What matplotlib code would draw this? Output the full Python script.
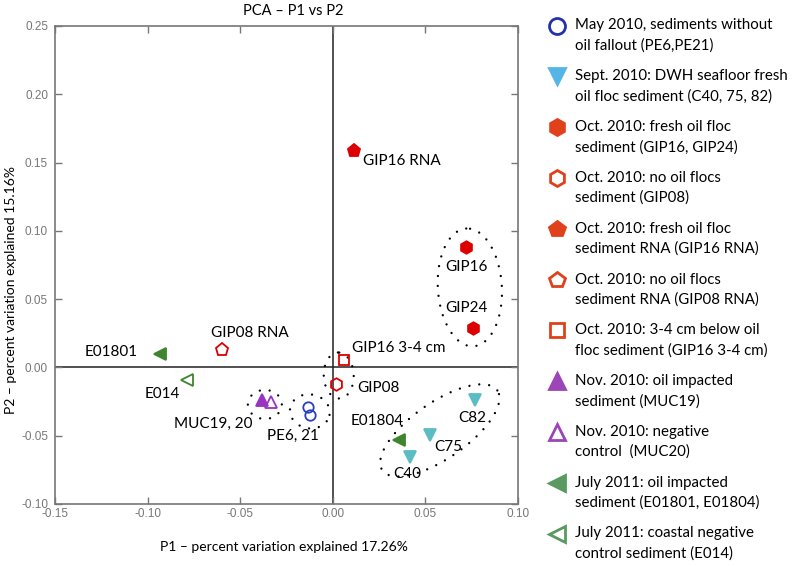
import numpy as np
import matplotlib
matplotlib.use("Agg")
import matplotlib.pyplot as plt

# sample scores on the first two principal components
pe_x = [-0.0132, -0.0123]
pe_y = [-0.0288, -0.0349]
c_x = [0.0418, 0.0524, 0.0767]          # C40, C75, C82
c_y = [-0.0654, -0.0495, -0.0239]
gip_floc_x = [0.0720, 0.0758]           # GIP16, GIP24
gip_floc_y = [0.0880, 0.0288]
gip08_x = [0.0017]
gip08_y = [-0.0122]
gip16_rna_x = [0.0115]
gip16_rna_y = [0.1585]
gip08_rna_x = [-0.0596]
gip08_rna_y = [0.0124]
gip16_34_x = [0.0059]
gip16_34_y = [0.0054]
muc19_x = [-0.0383]
muc19_y = [-0.0239]
muc20_x = [-0.0334]
muc20_y = [-0.0256]
e018_x = [-0.0932, 0.0357]              # E01801, E01804
e018_y = [0.0098, -0.0532]
e014_x = [-0.0787]
e014_y = [-0.0093]

legend_labels = [
    ("May 2010, sediments without", "oil fallout (PE6,PE21)"),
    ("Sept. 2010: DWH seafloor fresh", "oil floc sediment (C40, 75, 82)"),
    ("Oct. 2010: fresh oil floc", "sediment (GIP16, GIP24)"),
    ("Oct. 2010: no oil flocs", "sediment (GIP08)"),
    ("Oct. 2010: fresh oil floc", "sediment RNA (GIP16 RNA)"),
    ("Oct. 2010: no oil flocs", "sediment RNA (GIP08 RNA)"),
    ("Oct. 2010: 3-4 cm below oil", "floc sediment (GIP16 3-4 cm)"),
    ("Nov. 2010: oil impacted", "sediment (MUC19)"),
    ("Nov. 2010: negative", "control  (MUC20)"),
    ("July 2011: oil impacted", "sediment (E01801, E01804)"),
    ("July 2011: coastal negative", "control sediment (E014)"),
]

point_labels = ["GIP16 RNA", "GIP16", "GIP24", "GIP08 RNA", "E01801", "E014",
                "GIP16 3-4 cm", "GIP08", "MUC19, 20", "PE6, 21", "E01804",
                "C82", "C75", "C40"]
label_x = [0.0371, 0.0724, 0.0722, -0.0447, -0.1194, -0.0920,
           0.0357, 0.0245, -0.0646, -0.0214, 0.0240, 0.0752, 0.0626, 0.0403]
label_y = [0.1510, 0.0733, 0.0437, 0.0249, 0.0110, -0.0198,
           0.0139, -0.0149, -0.0410, -0.0502, -0.0395, -0.0373, -0.0580, -0.0783]

RED = "#dd0000"
BLUE = "#2a3fbf"
TEAL = "#5cbcc4"
PURPLE = "#9933c0"
GREEN = "#3e852e"

TXT = "Lato"

fig = plt.figure(figsize=(8, 5.66), dpi=100)
ax = fig.add_axes([55/800, 1-504/566, 463/800, 478/566])
ax.set_xlim(-0.15, 0.10)
ax.set_ylim(-0.10, 0.25)

ax.axvline(0, color="#222222", lw=1.1, zorder=1)
ax.axhline(0, color="#222222", lw=1.1, zorder=1)

# (marker, color, filled, size, x, y)
series = [
    ("o", BLUE, False, 7.5, pe_x, pe_y),
    ("v", TEAL, True, 8.5, c_x, c_y),
    ("h", RED, True, 9, gip_floc_x, gip_floc_y),
    ("h", RED, False, 9, gip08_x, gip08_y),
    ("p", RED, True, 9.5, gip16_rna_x, gip16_rna_y),
    ("p", RED, False, 9.5, gip08_rna_x, gip08_rna_y),
    ("s", RED, False, 6.5, gip16_34_x, gip16_34_y),
    ("^", PURPLE, True, 8, muc19_x, muc19_y),
    ("^", PURPLE, False, 8, muc20_x, muc20_y),
    ("<", GREEN, True, 8.5, e018_x, e018_y),
    ("<", GREEN, False, 8.5, e014_x, e014_y),
]
for m, c, filled, ms, xs, ys in series:
    ax.plot(xs, ys, ls="none", marker=m, ms=ms, mec=c,
            mfc=c if filled else "none", mew=1.3, zorder=3)

for txt, x, y in zip(point_labels, label_x, label_y):
    ax.text(x, y, txt, ha="center", va="center", fontsize=11, family=TXT, zorder=4)


def dotted_ellipse(ax, cx, cy, a_px, b_px, angle):
    t = np.linspace(0, 2*np.pi, 500)
    ca, sa = np.cos(np.radians(angle)), np.sin(np.radians(angle))
    x0, y0 = ax.transData.transform((cx, cy))
    xs = x0 + a_px*np.cos(t)*ca - b_px*np.sin(t)*sa
    ys = y0 + a_px*np.cos(t)*sa + b_px*np.sin(t)*ca
    pts = ax.transData.inverted().transform(np.column_stack([xs, ys]))
    ax.plot(pts[:, 0], pts[:, 1], ls=(0, (0.01, 4.2)), lw=1.7, color="k",
            dash_capstyle="round", zorder=2)


dotted_ellipse(ax, 0.0740, 0.0586, 59, 32, 93.5)
dotted_ellipse(ax, 0.0032, -0.0059, 23, 15, 92)
dotted_ellipse(ax, -0.0367, -0.0271, 17, 14.5, 0)
dotted_ellipse(ax, -0.0124, -0.0322, 20, 17, -10)
dotted_ellipse(ax, 0.0578, -0.0461, 70, 28, 34.8)

ax.set_xticks(np.arange(-0.15, 0.101, 0.05))
ax.set_yticks(np.arange(-0.10, 0.251, 0.05))
ax.xaxis.set_major_formatter(matplotlib.ticker.FormatStrFormatter("%.2f"))
ax.yaxis.set_major_formatter(matplotlib.ticker.FormatStrFormatter("%.2f"))
ax.tick_params(direction="in", length=5, width=1, color="#777777",
               labelcolor="#777777", labelsize=8.5, top=True, right=True)
ax.tick_params(axis="x", pad=3)
ax.tick_params(axis="y", pad=5)
for lab in ax.get_xticklabels() + ax.get_yticklabels():
    lab.set_family("Liberation Sans")
for sp in ax.spines.values():
    sp.set_color("#777777")
    sp.set_linewidth(1.2)

ax.set_xlabel("P1 – percent variation explained 17.26%", fontsize=10, family=TXT)
ax.xaxis.set_label_coords((284-55)/463, (504-541)/478)
ax.set_ylabel("P2 – percent variation explained 15.16%", fontsize=10, family=TXT)
ax.yaxis.set_label_coords((17-55)/463, (504-290)/478)
fig.text(293/800, 1-11/566, "PCA – P1 vs P2", ha="center", va="center",
         fontsize=10.5, family=TXT)

# legend drawn in figure pixel space
leg_colors = ["#2233aa", "#55b5e6", "#e0401a", "#e0401a", "#e0401a", "#e0401a",
              "#e0401a", "#9b45b8", "#9b45b8", "#5a9a60", "#5a9a60"]
lax = fig.add_axes([0, 0, 1, 1], zorder=-1)
lax.set_xlim(0, 800)
lax.set_ylim(566, 0)
lax.axis("off")
for i, ((m, _, filled, _, _, _), c, (l1, l2)) in enumerate(zip(series, leg_colors, legend_labels)):
    y = 25.5 + 50.8*i
    lax.plot(557, y, marker=m, ms=11.5 if m != "s" else 10, mec=c,
             mfc=c if filled else "none", mew=2, ls="none")
    lax.text(575, y, l1, ha="left", va="center", fontsize=10.8, family=TXT)
    lax.text(575, y + 20, l2, ha="left", va="center", fontsize=10.8, family=TXT)

fig.savefig("out.png", dpi=100)
